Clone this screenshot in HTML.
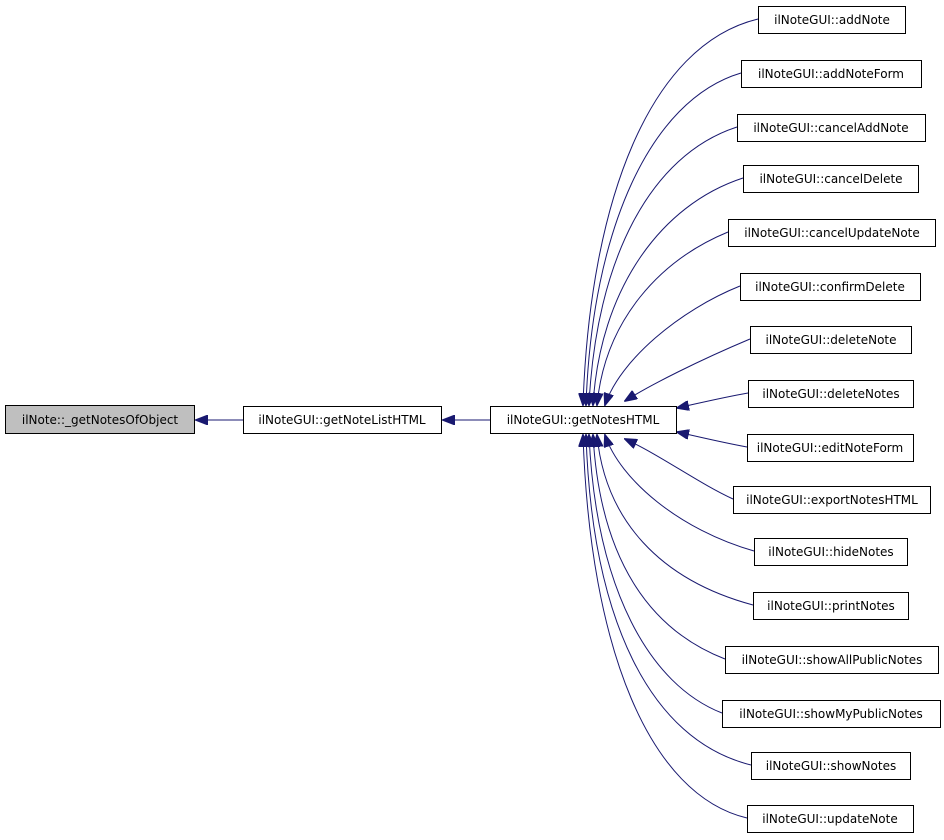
<!DOCTYPE html>
<html><head><meta charset="utf-8"><style>
html,body{margin:0;padding:0;background:#fff;}
svg{display:block;}
text{font-family:"DejaVu Sans","Liberation Sans",sans-serif;font-size:12px;fill:#000;}
</style></head><body>
<svg width="944" height="840" viewBox="0 0 944 840" xmlns="http://www.w3.org/2000/svg">
<defs>
<marker id="a" markerWidth="13" markerHeight="10" refX="12" refY="5" orient="auto" markerUnits="userSpaceOnUse">
<path d="M0,0 L13,5 L0,10 Z" fill="#191970" stroke="#191970"/>
</marker>
</defs>
<g fill="none" stroke="#191970" stroke-width="1" marker-end="url(#a)">
<path d="M243,420 L196,420"/>
<path d="M490,420 L443,420"/>
<path d="M758,19 C650,45 590,200 583,405"/>
<path d="M741,73 C650,100 592,230 586,405"/>
<path d="M737,127 C650,155 596,260 589,405"/>
<path d="M743,178 C660,205 600,290 593,405"/>
<path d="M728,232 C660,260 605,320 597,405"/>
<path d="M740,286 C680,310 620,360 605,405"/>
<path d="M750,339 C700,360 650,385 625,401"/>
<path d="M748,393 C720,398 700,403 677,408"/>
<path d="M747,447 C720,442 700,437 677,432"/>
<path d="M733,499 C700,484 660,455 625,439"/>
<path d="M754,551 C680,530 620,480 605,435"/>
<path d="M753,605 C660,580 605,520 597,435"/>
<path d="M725,659 C650,630 600,560 593,435"/>
<path d="M722,713 C650,685 596,590 589,435"/>
<path d="M751,765 C650,740 592,620 586,435"/>
<path d="M747,818 C650,795 590,650 583,435"/>
</g>
<g stroke="#000" stroke-width="1">
<rect x="5.5" y="405.5" width="189" height="28" fill="#bfbfbf"/>
<rect x="243.5" y="406.5" width="198" height="27" fill="#fff"/>
<rect x="490.5" y="406.5" width="186" height="27" fill="#fff"/>
<rect x="758.5" y="6.5" width="147" height="27" fill="#fff"/>
<rect x="741.5" y="60.5" width="180" height="27" fill="#fff"/>
<rect x="737.5" y="114.5" width="188" height="27" fill="#fff"/>
<rect x="743.5" y="165.5" width="175" height="27" fill="#fff"/>
<rect x="728.5" y="219.5" width="207" height="27" fill="#fff"/>
<rect x="740.5" y="273.5" width="180" height="27" fill="#fff"/>
<rect x="750.5" y="326.5" width="161" height="27" fill="#fff"/>
<rect x="748.5" y="380.5" width="165" height="27" fill="#fff"/>
<rect x="747.5" y="434.5" width="166" height="27" fill="#fff"/>
<rect x="733.5" y="486.5" width="197" height="27" fill="#fff"/>
<rect x="754.5" y="538.5" width="153" height="27" fill="#fff"/>
<rect x="753.5" y="592.5" width="155" height="27" fill="#fff"/>
<rect x="725.5" y="646.5" width="213" height="27" fill="#fff"/>
<rect x="722.5" y="700.5" width="218" height="27" fill="#fff"/>
<rect x="751.5" y="752.5" width="159" height="27" fill="#fff"/>
<rect x="747.5" y="805.5" width="166" height="27" fill="#fff"/>
</g>
<g text-anchor="middle">
<text x="100" y="424">ilNote::_getNotesOfObject</text>
<text x="342" y="424">ilNoteGUI::getNoteListHTML</text>
<text x="583" y="424">ilNoteGUI::getNotesHTML</text>
<text x="832" y="24">ilNoteGUI::addNote</text>
<text x="831" y="78">ilNoteGUI::addNoteForm</text>
<text x="831" y="132">ilNoteGUI::cancelAddNote</text>
<text x="831" y="183">ilNoteGUI::cancelDelete</text>
<text x="832" y="237">ilNoteGUI::cancelUpdateNote</text>
<text x="830" y="291">ilNoteGUI::confirmDelete</text>
<text x="831" y="344">ilNoteGUI::deleteNote</text>
<text x="831" y="398">ilNoteGUI::deleteNotes</text>
<text x="830" y="452">ilNoteGUI::editNoteForm</text>
<text x="832" y="504">ilNoteGUI::exportNotesHTML</text>
<text x="831" y="556">ilNoteGUI::hideNotes</text>
<text x="831" y="610">ilNoteGUI::printNotes</text>
<text x="832" y="664">ilNoteGUI::showAllPublicNotes</text>
<text x="831" y="718">ilNoteGUI::showMyPublicNotes</text>
<text x="831" y="770">ilNoteGUI::showNotes</text>
<text x="830" y="823">ilNoteGUI::updateNote</text>
</g>
</svg>
</body></html>
